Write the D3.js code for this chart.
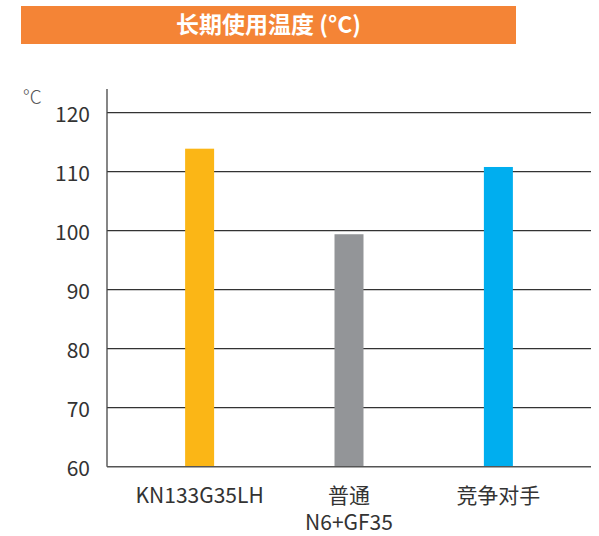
<!DOCTYPE html>
<html><head><meta charset="utf-8">
<script src="https://cdn.jsdelivr.net/npm/d3@7"></script>
<style>
html,body{margin:0;padding:0;background:#fff;}
svg{display:block;font-family:"Noto Sans CJK SC","Noto Sans",sans-serif;}
</style></head>
<body><svg id="c" width="599" height="536"></svg>
<script>
const titleText = "长期使用温度 (°C)";
const unitLabel = "°C";
const categories = [["KN133G35LH"], ["普通", "N6+GF35"], ["竞争对手"]];
const values = [113.9, 99.4, 110.8];
const colors = ["#FBB616", "#939598", "#00AEEF"];
const yTicks = [60, 70, 80, 90, 100, 110, 120];

const svg = d3.select("#c");
const m = {left: 107, right: 591, top: 112.7, bottom: 466.7};

// title banner
svg.append("rect").attr("x", 21).attr("y", 6).attr("width", 495).attr("height", 38).attr("fill", "#F48436");
svg.append("text").attr("x", 268.5).attr("y", 33).attr("text-anchor", "middle")
  .attr("fill", "#fff").attr("font-size", 23).attr("font-weight", 700).text(titleText);

const y = d3.scaleLinear().domain([60, 120]).range([m.bottom, m.top]);
const x = d3.scalePoint().domain(d3.range(categories.length)).range([m.left, m.right]).padding(0.62);

// gridlines
svg.append("g").selectAll("line").data(yTicks.filter(d => d > 60)).join("line")
  .attr("x1", m.left).attr("x2", m.right).attr("y1", d => y(d)).attr("y2", d => y(d))
  .attr("stroke", "#333").attr("stroke-width", 1.3);

// y tick labels
const yAxis = d3.axisLeft(y).tickValues(yTicks).tickSize(0).tickPadding(17);
const ya = svg.append("g").attr("transform", `translate(${m.left},0)`).call(yAxis);
ya.select(".domain").remove();
ya.selectAll("text").attr("font-size", 21).attr("fill", "#333")
  .attr("font-family", '"Noto Sans CJK SC","Noto Sans",sans-serif').attr("dy", "0.4em");

// bars
const bw = 29;
svg.append("g").selectAll("rect").data(values).join("rect")
  .attr("x", (d, i) => x(i) - bw / 2).attr("width", bw)
  .attr("y", d => y(d)).attr("height", d => y(60) - y(d))
  .attr("fill", (d, i) => colors[i]);

// axes lines
svg.append("line").attr("x1", m.left).attr("x2", m.left).attr("y1", 89).attr("y2", m.bottom)
  .attr("stroke", "#444").attr("stroke-width", 1.3);
svg.append("line").attr("x1", m.left).attr("x2", m.right).attr("y1", m.bottom).attr("y2", m.bottom)
  .attr("stroke", "#555").attr("stroke-width", 1.5);

// x labels
const xl = svg.append("g").selectAll("text").data(categories).join("text")
  .attr("x", (d, i) => x(i)).attr("y", 503).attr("text-anchor", "middle")
  .attr("font-size", 21).attr("fill", "#333");
xl.each(function(d, i) {
  d3.select(this).selectAll("tspan").data(d).join("tspan")
    .attr("x", x(i)).attr("dy", (t, j) => j === 0 ? 0 : 27).text(t => t);
});

// unit
svg.append("text").attr("x", 23).attr("y", 104).attr("font-size", 19).attr("font-weight", 300)
  .attr("fill", "#555").text(unitLabel);
</script></body></html>
